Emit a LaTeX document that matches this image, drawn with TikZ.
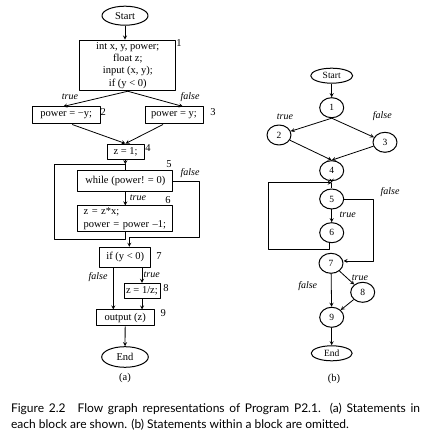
\documentclass[tikz,border=0pt]{standalone}
\usepackage{fontspec}
\setmainfont{Liberation Serif}
\newfontfamily\capfont{Lato}
\usetikzlibrary{shapes.geometric}
\begin{document}
\begin{tikzpicture}[x=1pt, y=1pt, line join=round, font=\fontsize{10.5}{12.3}\selectfont, >=stealth,
	blk/.style={draw, line width=1pt, inner sep=0pt, align=center},
	term/.style={draw, ellipse, line width=1pt, inner sep=0pt},
	vtx/.style={draw, ellipse, line width=1pt, minimum width=24, minimum height=20, inner sep=0pt, font=\fontsize{9.5}{11}\selectfont},
	lab/.style={font=\itshape\fontsize{10}{12}\selectfont},
	every path/.style={line width=0.8pt}]
	\useasboundingbox (0,0) rectangle (429,437);
	\node[term, minimum width=46, minimum height=19] (start) at (125,421.3) {Start};
	\node[blk, minimum width=96, minimum height=50.7] (b1) at (127.8,371.6) {int x, y, power;\\float z;\\input (x, y);\\if (y < 0)};
	\node[blk, minimum width=68, minimum height=17] (b2) at (66.2,321.5) {power = −y;};
	\node[blk, minimum width=58, minimum height=17] (b3) at (174,321.5) {power = y;};
	\node[blk, minimum width=37, minimum height=15.3] (b4) at (125.5,285.3) {z = 1;};
	\node[blk, minimum width=95.3, minimum height=21] (b5) at (125.3,255.8) {while (power! = 0)};
	\node[blk, text width=83.3, inner xsep=6, minimum height=25.7, align=left] (b6) at (125.3,218.2) {z = z*x;\\power = power –1;};
	\node[blk, minimum width=50.7, minimum height=20] (b7) at (125.3,179.7) {if (y < 0)};
	\node[blk, minimum width=36, minimum height=15] (b8) at (142,146.2) {z = 1/z;};
	\node[blk, minimum width=58.3, minimum height=16] (b9) at (125.2,119) {output (z)};
	\node[term, minimum width=46.6, minimum height=20.6] (end) at (125,80) {End};
	\node (capa) at (125,58.7) {(a)};
	\node (l1) at (179,394) {1};
	\node (l2) at (103.3,324.7) {2};
	\node (l3) at (213,325) {3};
	\node (l4) at (148,289) {4};
	\node (l5) at (169,273) {5};
	\node (l6) at (168,237) {6};
	\node (l7) at (159,181) {7};
	\node (l8) at (166,149) {8};
	\node (l9) at (163.3,124) {9};
	\node[lab] (ta1) at (70,340.3) {true};
	\node[lab] (fa1) at (190,340) {false};
	\node[lab] (fa5) at (190,264) {false};
	\node[lab] (ta5) at (138,239.3) {true};
	\node[lab] (fa7) at (98,160) {false};
	\node[lab] (ta7) at (151.7,162.7) {true};
	\coordinate (ja) at (125.3,272.7);
	\coordinate (la) at (54,198);
	\coordinate (fa) at (199.3,199.7);
	\draw[->] (start) -- (start |- b1.north);
	\draw[->] (b1.south) -- ([xshift=-3]b2.north);
	\draw[->] (b1.south) -- ([xshift=9]b3.north);
	\draw[->] ([xshift=6]b2.south) -- (b4.north);
	\draw[->] ([xshift=-11]b3.south) -- (b4.north);
	\draw[->] (b4) -- (ja);
	\draw (ja) -- (b5);
	\draw[->] (b5) -- (b6);
	\draw (b6.south) |- (la) |- (ja);
	\draw[->] (b5.east) -| (fa) -| ([xshift=4]b7.north);
	\draw[->] ([xshift=-12]b7.south) -- ([xshift=-12]b7.south |- b9.north);
	\draw[->] (b7.south -| b8) -- (b8);
	\draw[->] (b8) -- (b8 |- b9.north);
	\draw[->] (b9) -- (end);
	\node[term, minimum width=42, minimum height=15, font=\fontsize{9.5}{11}\selectfont] (bstart) at (331.7,361.3) {Start};
	\node[vtx] (v1) at (331.7,329.3) {1};
	\node[vtx] (v2) at (279,302) {2};
	\node[vtx] (v3) at (385,294.7) {3};
	\node[vtx] (v4) at (331.7,266.3) {4};
	\node[vtx] (v5) at (331.7,238) {5};
	\node[vtx] (v6) at (331.7,204.3) {6};
	\node[vtx] (v7) at (331,173.7) {7};
	\node[vtx] (v8) at (362.7,144.7) {8};
	\node[vtx] (v9) at (331.7,119.7) {9};
	\node[term, minimum width=41, minimum height=15, font=\fontsize{9.5}{11}\selectfont] (bend) at (331.7,83.7) {End};
	\node (capb) at (334,58) {(b)};
	\node[lab] (tb1) at (285,320) {true};
	\node[lab] (fb1) at (382.3,321) {false};
	\node[lab] (fb5) at (390,245.3) {false};
	\node[lab] (tb5) at (347.7,222) {true};
	\node[lab] (tb7) at (360,159.7) {true};
	\node[lab] (fb7) at (307.7,151) {false};
	\coordinate (jb) at (331.7,254.3);
	\coordinate (lb) at (268.3,187.7);
	\coordinate (fb) at (373.3,176);
	\draw[->] (bstart) -- (v1);
	\draw[->] (v1.south) -- (v2);
	\draw[->] (v1.south) -- (v3);
	\draw[->] (v2) -- (v4.north);
	\draw[->] (v3) -- (v4.north);
	\draw[->] (v4) -- (jb);
	\draw (jb) -- (v5);
	\draw[->] (v5) -- (v6);
	\draw[->] (v6.260) |- (lb) |- (jb);
	\draw[->] (v5.east) -| (fb) -- (fb -| v7.east);
	\draw[->] (v7) -- (v9);
	\draw[->] (v7) -- (v8);
	\draw[->] (v8) -- (v9);
	\draw[->] (v9) -- (bend);
	\node[anchor=north west, text width=409pt, align=justify, inner sep=0pt, font=\capfont\fontsize{12}{16}\selectfont] (cap) at (10.7,34) {Figure 2.2\quad Flow graph representations of Program P2.1. (a) Statements in each block are shown. (b) Statements within a block are omitted.};
\end{tikzpicture}
\end{document}
